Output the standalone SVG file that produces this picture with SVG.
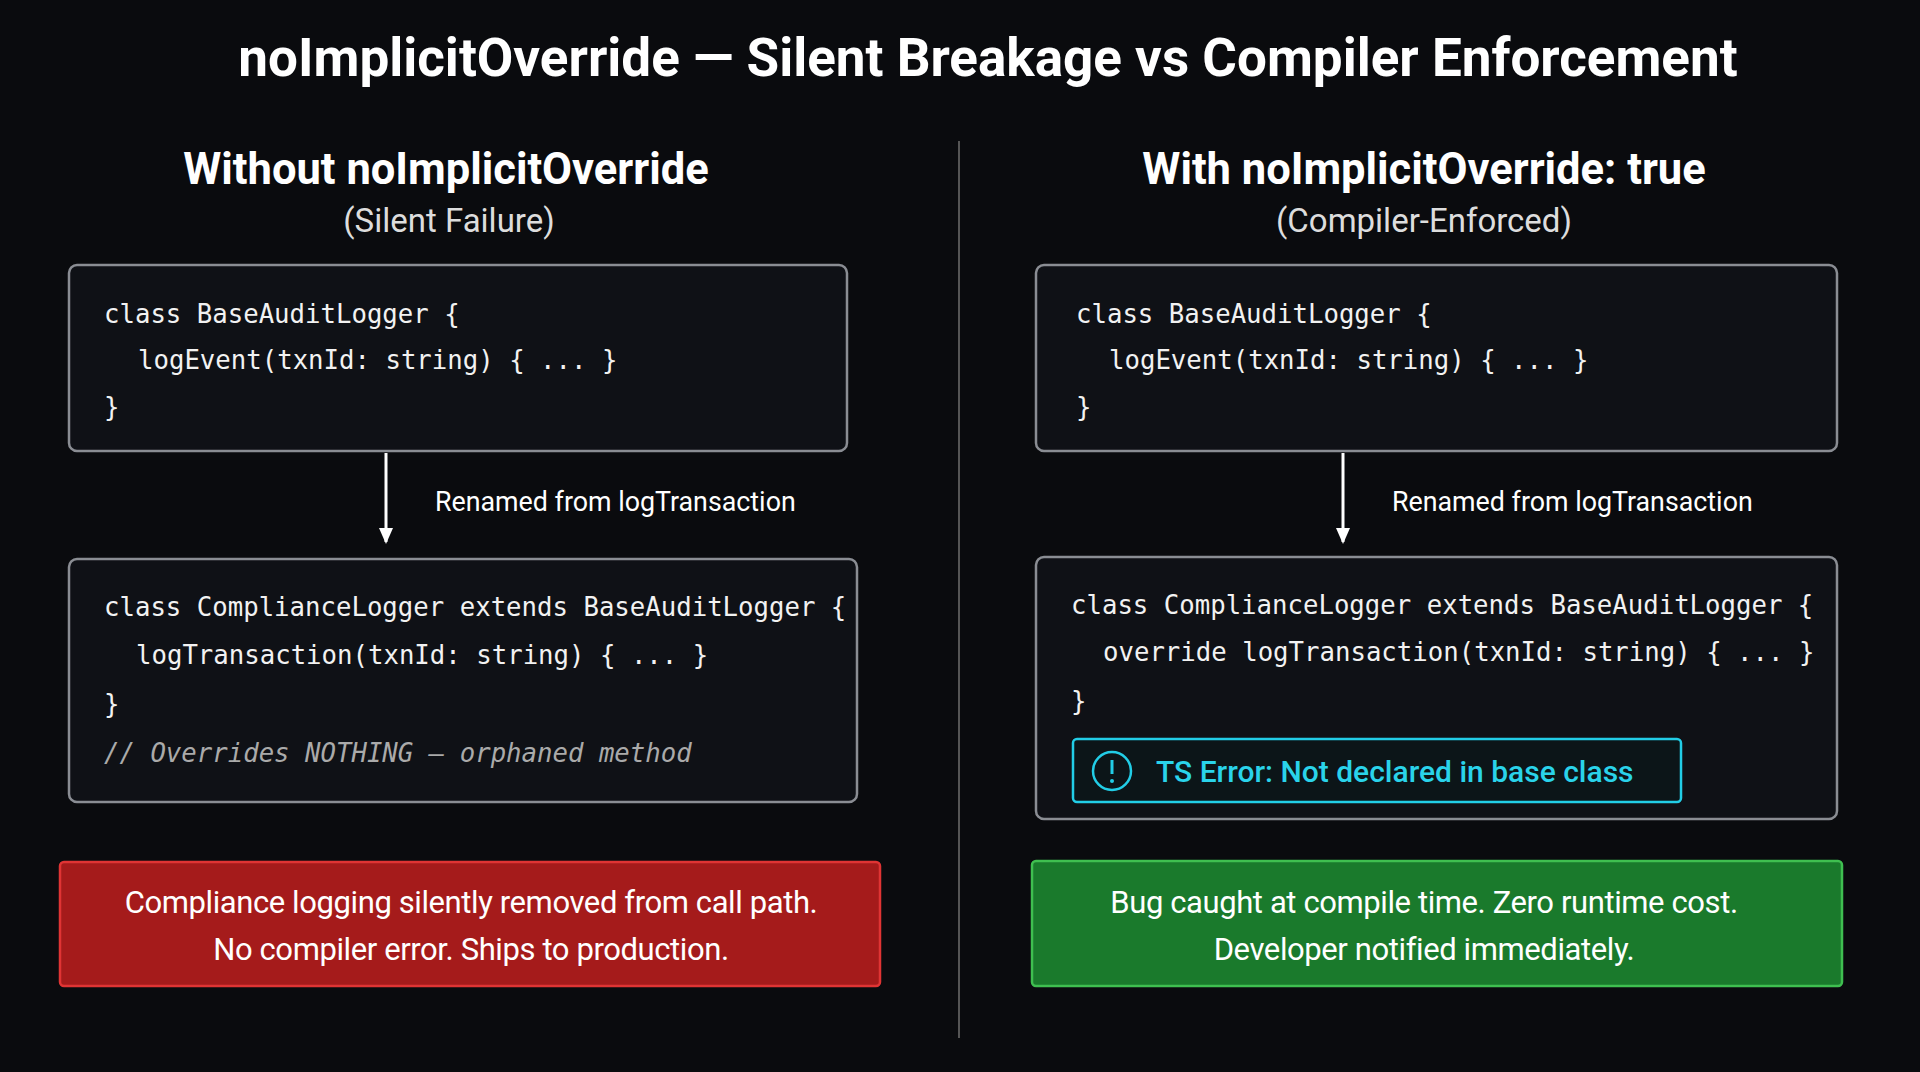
<svg xmlns="http://www.w3.org/2000/svg" width="1920" height="1072" viewBox="0 0 1920 1072">
<style>
.h{font-family:Roboto,"Liberation Sans",sans-serif;font-weight:bold;fill:#fff;text-anchor:middle}
.s{font-family:Roboto,"Liberation Sans",sans-serif;fill:#ddd;font-size:33px;text-anchor:middle}
.box{fill:#0f1116;stroke:#8a8d93;stroke-width:2.5}
.c{font-family:"DejaVu Sans Mono","Liberation Mono",monospace;font-size:25.7px;fill:#f2f2f2}
.cm{font-family:"DejaVu Sans Mono","Liberation Mono",monospace;font-size:25.7px;fill:#aaa;font-style:italic}
.lbl{font-family:Roboto,"Liberation Sans",sans-serif;font-size:26.8px;fill:#fff}
.b{font-family:Roboto,"Liberation Sans",sans-serif;font-size:31px;fill:#fff;text-anchor:middle;letter-spacing:-0.4px}
.ar{stroke:#fff;stroke-width:3;fill:none}
</style>
<defs><marker id="ah" markerWidth="16" markerHeight="14" refX="14" refY="7" orient="auto" markerUnits="userSpaceOnUse" viewBox="0 0 16 14"><path d="M0,0 L16,7 L0,14z" fill="#fff"/></marker></defs>
<rect width="1920" height="1072" fill="#0a0b0e"/>
<text class="h" x="988" y="76" font-size="53">noImplicitOverride — Silent Breakage vs Compiler Enforcement</text>
<line x1="959" y1="141" x2="959" y2="1038" stroke="#555" stroke-width="2"/>
<g id="left-head"><text class="h" x="446" y="184" font-size="43.5">Without noImplicitOverride</text><text class="s" x="449" y="232">(Silent Failure)</text></g>
<g id="right-head"><text class="h" x="1424" y="184" font-size="43.5">With noImplicitOverride: true</text><text class="s" x="1424" y="232">(Compiler-Enforced)</text></g>
<g id="l1"><rect class="box" x="69" y="265" width="778" height="186" rx="8"/>
<text class="c" x="104" y="323">class BaseAuditLogger {</text><text class="c" x="138" y="369">logEvent(txnId: string) { ... }</text><text class="c" x="104" y="416">}</text></g>
<g id="l2"><rect class="box" x="69" y="559" width="788" height="243" rx="8"/>
<text class="c" x="104" y="616">class ComplianceLogger extends BaseAuditLogger {</text><text class="c" x="136" y="664">logTransaction(txnId: string) { ... }</text><text class="c" x="104" y="713">}</text><text class="cm" x="104" y="762">// Overrides NOTHING — orphaned method</text></g>
<g id="lr"><rect x="60" y="862" width="820" height="124" rx="4" fill="#a51b1b" stroke="#e03434" stroke-width="2.5"/>
<text class="b" x="471" y="913">Compliance logging silently removed from call path.</text><text class="b" x="471" y="960">No compiler error. Ships to production.</text></g>
<g id="r1"><rect class="box" x="1036" y="265" width="801" height="186" rx="8"/>
<text class="c" x="1076" y="323">class BaseAuditLogger {</text><text class="c" x="1109" y="369">logEvent(txnId: string) { ... }</text><text class="c" x="1076" y="416">}</text></g>
<g id="r2"><rect class="box" x="1036" y="557" width="801" height="262" rx="8"/>
<text class="c" x="1071" y="614">class ComplianceLogger extends BaseAuditLogger {</text><text class="c" x="1103" y="661">override logTransaction(txnId: string) { ... }</text><text class="c" x="1071" y="710">}</text></g>
<g id="err"><rect x="1073" y="739" width="608" height="63" rx="4" fill="#0c1518" stroke="#22cde6" stroke-width="2.5"/>
<circle cx="1112" cy="771" r="19" fill="none" stroke="#22cde6" stroke-width="2.5"/>
<line x1="1112" y1="760" x2="1112" y2="774" stroke="#22cde6" stroke-width="3"/><circle cx="1112" cy="781" r="2" fill="#22cde6"/>
<text x="1156" y="782" font-family="Roboto,'Liberation Sans',sans-serif" font-size="30" font-weight="500" fill="#2ad3ea">TS Error: Not declared in base class</text></g>
<g id="rr"><rect x="1032" y="861" width="810" height="125" rx="4" fill="#1a7a2c" stroke="#3fbf50" stroke-width="2.5"/>
<text class="b" x="1424" y="913">Bug caught at compile time. Zero runtime cost.</text><text class="b" x="1424" y="960">Developer notified immediately.</text></g>
<g id="connectors">
<line class="ar" x1="386" y1="453" x2="386" y2="542" marker-end="url(#ah)"/>
<line class="ar" x1="1343" y1="453" x2="1343" y2="542" marker-end="url(#ah)"/>
<text class="lbl" x="435" y="511">Renamed from logTransaction</text>
<text class="lbl" x="1392" y="511">Renamed from logTransaction</text>
</g>
</svg>
